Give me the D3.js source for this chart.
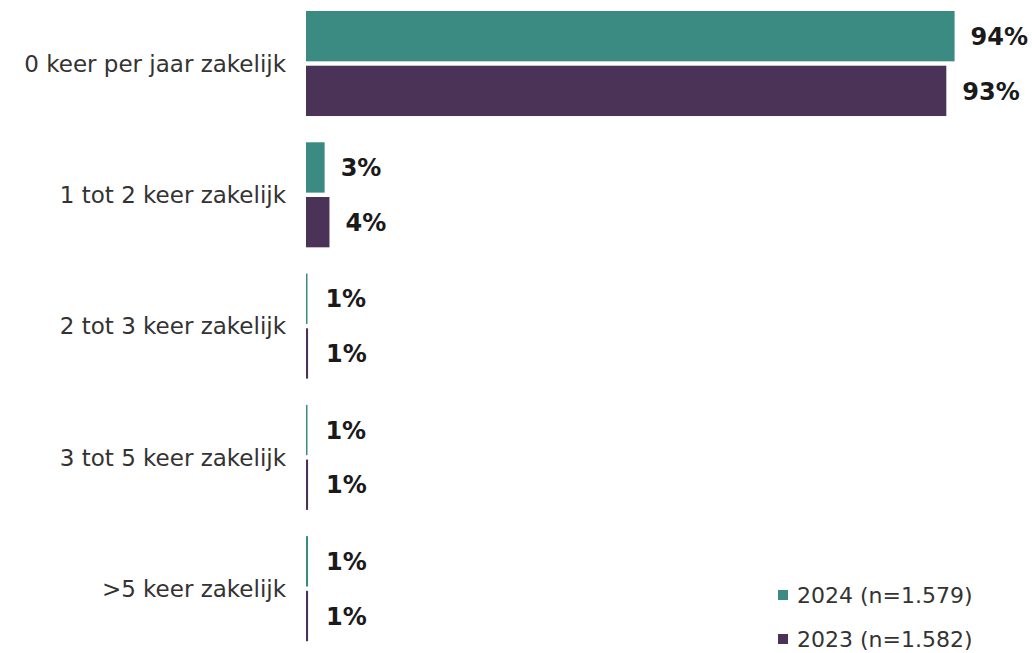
<!DOCTYPE html>
<html>
<head>
<meta charset="utf-8">
<script src="https://cdn.jsdelivr.net/npm/d3@7"></script>
<style>
  body { margin: 0; background: #fff; }
  text { font-family: "DejaVu Sans", sans-serif; }
</style>
</head>
<body>
<div id="chart"></div>
<script>
const categories = [
  '0 keer per jaar zakelijk',
  '1 tot 2 keer zakelijk',
  '2 tot 3 keer zakelijk',
  '3 tot 5 keer zakelijk',
  '>5 keer zakelijk'
];
const seriesNames = ['2024 (n=1.579)', '2023 (n=1.582)'];
// bar lengths
const values2024 = [94, 2.7, 0.2, 0.2, 0.3];
const values2023 = [92.8, 3.4, 0.3, 0.3, 0.3];
// printed labels
const labels2024 = ['94%', '3%', '1%', '1%', '1%'];
const labels2023 = ['93%', '4%', '1%', '1%', '1%'];
const colors = ['#3b8b82', '#4b3257'];

const width = 1032, height = 653;
const svg = d3.select('#chart').append('svg')
  .attr('width', width)
  .attr('height', height);

const x = d3.scaleLinear().domain([0, 100]).range([306, 996]);
const y = d3.scaleBand().domain(categories).range([11, 641.2]).paddingInner(0.2).paddingOuter(0);
const ySub = d3.scaleBand().domain([0, 1]).range([0, y.bandwidth()]).paddingInner(0.08);

const rows = categories.map((c, i) => ({
  cat: c,
  bars: [
    { s: 0, v: values2024[i], label: labels2024[i] },
    { s: 1, v: values2023[i], label: labels2023[i] }
  ]
}));

const group = svg.append('g').selectAll('g')
  .data(rows)
  .enter()
  .append('g')
  .attr('transform', d => `translate(0,${y(d.cat)})`);

group.selectAll('rect')
  .data(d => d.bars)
  .enter()
  .append('rect')
  .attr('x', x(0))
  .attr('y', d => ySub(d.s))
  .attr('width', d => Math.max(1.5, x(d.v) - x(0)))
  .attr('height', ySub.bandwidth())
  .attr('fill', d => colors[d.s]);

group.selectAll('text.val')
  .data(d => d.bars)
  .enter()
  .append('text')
  .attr('class', 'val')
  .attr('x', d => x(d.v) + (d.v < 1 ? 18 : 16))
  .attr('y', d => ySub(d.s) + ySub.bandwidth() / 2)
  .attr('dy', '0.36em')
  .style('font-size', '24px')
  .style('font-weight', 'bold')
  .style('fill', '#1a1a1a')
  .text(d => d.label);

group.append('text')
  .attr('x', 286)
  .attr('y', y.bandwidth() / 2)
  .attr('dy', '0.36em')
  .attr('text-anchor', 'end')
  .style('font-size', '23px')
  .style('fill', '#333')
  .text(d => d.cat);

// legend
const legend = svg.append('g').selectAll('g')
  .data(seriesNames)
  .enter()
  .append('g')
  .attr('transform', (d, i) => `translate(778,${595 + i * 44})`);

legend.append('rect')
  .attr('x', 0)
  .attr('y', -5)
  .attr('width', 10)
  .attr('height', 10)
  .attr('fill', (d, i) => colors[i]);

legend.append('text')
  .attr('x', 19)
  .attr('y', 0)
  .attr('dy', '0.36em')
  .style('font-size', '22px')
  .style('fill', '#333')
  .text(d => d);
</script>
</body>
</html>
